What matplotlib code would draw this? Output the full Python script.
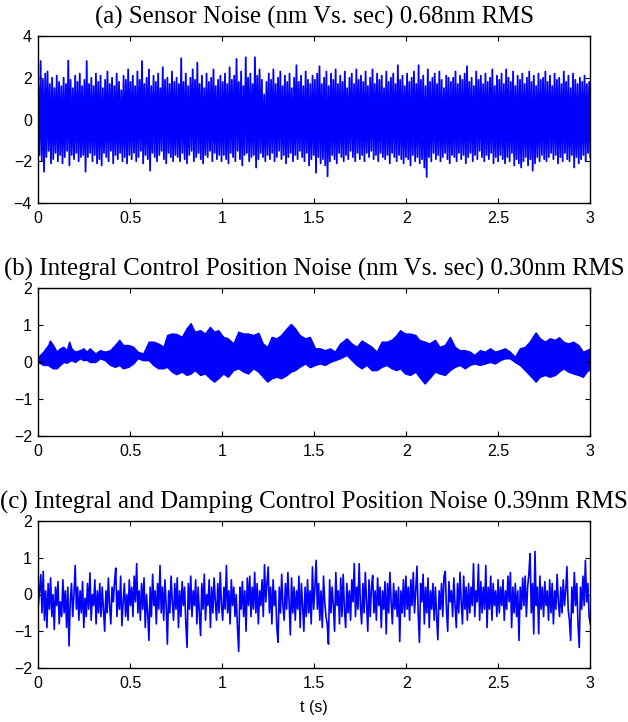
import numpy as np
import matplotlib
matplotlib.use("Agg")
import matplotlib.pyplot as plt

# ---------------- data ----------------
xticks = [0, 0.5, 1, 1.5, 2, 2.5, 3]
xticklabels = ["0", "0.5", "1", "1.5", "2", "2.5", "3"]

titles = ["(a) Sensor Noise (nm Vs. sec) 0.68nm RMS",
          "(b) Integral Control Position Noise (nm Vs. sec) 0.30nm RMS",
          "(c) Integral and Damping Control Position Noise 0.39nm RMS"]
xlabel_c = "t (s)"

# (a) successive positive and negative excursions of the sensor noise
a_peaks = [1.6, 2.8, 1.9, 2.2, 2.3, 1.7, 2.0, 1.5, 2.1, 1.8, 1.6, 2.0, 1.7, 2.82, 1.9, 1.5, 2.1, 1.8, 2.2, 1.6,
           1.9, 2.8, 1.7, 2.0, 1.6, 2.2, 1.8, 2.1, 1.5, 1.9, 2.3, 1.7, 2.0, 1.6, 2.2, 1.8, 1.4, 2.1, 1.9, 2.4,
           1.8, 2.1, 1.6, 2.3, 1.9, 2.8, 1.7, 2.0, 2.4, 1.6, 2.1, 1.8, 2.2, 1.5, 2.5, 1.9, 2.0, 1.7, 2.3, 1.8,
           2.0, 1.7, 2.93, 1.8, 2.2, 1.6, 2.0, 2.4, 1.9, 2.72, 1.7, 2.1, 1.5, 2.2, 1.8, 2.0, 2.4, 1.6, 1.9, 2.1,
           1.8, 2.2, 1.7, 2.5, 1.9, 2.1, 2.9, 1.8, 2.3, 1.6, 2.98, 2.0, 2.2, 1.7, 2.98, 2.1, 2.4, 1.9, 1.2, 1.8,
           2.2, 1.9, 2.4, 1.7, 2.0, 2.3, 1.6, 2.1, 1.8, 2.2, 1.5, 2.0, 2.6, 1.8, 2.1, 1.6, 2.3, 1.9, 1.7, 2.1,
           1.9, 2.2, 2.55, 1.7, 2.0, 2.3, 1.6, 2.2, 1.9, 2.4, 1.7, 2.1, 1.8, 2.3, 1.5, 2.0, 2.2, 1.7, 2.4, 1.9,
           2.1, 1.8, 2.3, 1.6, 2.0, 2.4, 1.7, 2.2, 1.9, 2.1, 1.5, 2.3, 1.8, 2.0, 2.2, 1.7, 2.6, 1.9, 2.1, 1.6,
           2.2, 1.8, 2.0, 2.3, 1.7, 2.6, 1.9, 2.1, 1.6, 2.4, 1.8, 2.0, 2.2, 1.7, 2.3, 1.9, 1.5, 2.1, 2.0, 1.8,
           2.0, 2.3, 1.7, 2.1, 1.9, 2.2, 2.55, 1.8, 2.0, 1.6, 2.3, 1.9, 2.1, 1.7, 2.2, 1.8, 2.0, 2.4, 1.6, 2.1,
           1.9, 2.2, 1.7, 2.4, 2.0, 1.8, 2.3, 1.6, 2.1, 1.9, 2.2, 1.7, 2.0, 2.3, 1.8, 2.1, 1.6, 2.2, 1.9, 2.0,
           2.3, 1.8, 2.1, 1.6, 2.2, 1.9, 2.0, 1.7, 2.3, 1.8, 2.1, 1.5, 2.2, 1.9, 1.7, 2.0, 1.8, 2.1, 1.7, 1.8]
a_troughs = [-1.7, -2.0, -2.5, -1.8, -1.5, -2.1, -1.9, -1.6, -2.0, -1.7, -2.1, -1.8, -1.5, -2.2, -1.7, -1.9, -1.6, -2.0, -1.8, -1.7,
             -2.5, -1.8, -1.6, -2.0, -1.7, -2.1, -1.9, -2.2, -1.6, -1.8, -2.0, -1.5, -2.1, -1.7, -1.9, -1.6, -2.0, -1.8, -2.1, -1.7,
             -1.9, -1.6, -2.0, -1.8, -1.5, -2.1, -1.7, -1.9, -2.45, -1.6, -1.8, -2.0, -1.7, -1.5, -1.9, -2.1, -1.6, -1.8, -2.0, -1.7,
             -1.8, -2.0, -1.6, -1.9, -2.1, -1.7, -1.5, -2.0, -1.8, -1.6, -1.9, -2.1, -1.7, -1.8, -1.5, -2.0, -1.6, -1.9, -1.7, -2.0,
             -1.7, -1.9, -2.1, -1.6, -1.8, -2.0, -1.5, -1.9, -2.2, -1.7, -1.6, -2.0, -1.8, -1.7, -2.3, -1.9, -1.6, -1.8, -2.0, -1.7,
             -1.9, -1.6, -2.0, -1.8, -1.5, -1.9, -1.7, -2.1, -1.8, -1.6, -2.0, -1.7, -1.9, -1.5, -1.8, -2.0, -1.6, -2.2, -1.9, -1.7,
             -2.55, -1.8, -2.1, -1.9, -2.2, -2.72, -2.0, -1.7, -1.9, -2.1, -1.6, -1.8, -2.0, -1.7, -1.9, -1.5, -1.8, -2.0, -1.6, -1.9,
             -1.7, -2.0, -1.6, -1.8, -1.5, -1.9, -1.7, -2.0, -1.6, -1.8, -1.9, -1.7, -2.1, -1.6, -1.8, -2.0, -1.7, -1.9, -2.1, -1.8,
             -1.9, -2.2, -1.7, -2.0, -1.8, -2.1, -1.9, -2.3, -2.75, -1.8, -2.0, -1.6, -1.9, -1.7, -2.0, -1.8, -1.6, -1.9, -2.1, -1.7,
             -1.8, -2.0, -1.6, -1.9, -1.7, -2.1, -1.8, -1.6, -2.0, -1.7, -1.9, -1.5, -1.8, -2.0, -1.7, -1.9, -1.6, -2.1, -1.8, -2.0,
             -1.7, -1.9, -2.1, -1.8, -2.0, -1.6, -2.2, -1.9, -2.1, -2.3, -2.0, -1.8, -2.2, -1.9, -2.45, -2.1, -1.8, -2.0, -1.7, -1.9,
             -2.0, -1.8, -1.6, -1.9, -1.7, -2.1, -1.8, -2.0, -1.6, -1.9, -2.0, -1.7, -2.3, -1.8, -2.1, -1.9, -1.7, -2.0, -1.6, -1.8]

# (b) envelope of the integral-control position noise band
t_b = [0, .027, .054, .063, .08, .1, .118, .136, .154, .168,
       .18, .2, .226, .245, .263, .28, .31, .335, .362, .39,
       .417, .44, .46, .49, .516, .54, .57, .6, .625, .652,
       .68, .7, .725, .75, .78, .806, .828, .85, .88, .906,
       .933, .955, .978, 1.005, 1.03, 1.06, 1.087, 1.114, 1.14, 1.168,
       1.196, 1.22, 1.245, 1.268, 1.295, 1.32, 1.35, 1.373, 1.395, 1.42,
       1.45, 1.476, 1.504, 1.53, 1.558, 1.585, 1.612, 1.64, 1.676, 1.703,
       1.73, 1.757, 1.784, 1.812, 1.839, 1.866, 1.893, 1.92, 1.947, 1.966,
       1.993, 2.02, 2.05, 2.07, 2.1, 2.125, 2.156, 2.18, 2.21, 2.237,
       2.264, 2.29, 2.318, 2.345, 2.37, 2.4, 2.427, 2.455, 2.482, 2.51,
       2.536, 2.563, 2.59, 2.617, 2.645, 2.67, 2.703, 2.726, 2.753, 2.78,
       2.808, 2.83, 2.853, 2.88, 2.907, 2.935, 2.96, 2.98, 3.0]
upper_b = [.14, .28, .46, .58, .46, .28, .37, .41, .32, .55,
           .37, .28, .32, .37, .28, .37, .23, .32, .28, .32,
           .46, .6, .46, .46, .41, .28, .23, .55, .55, .5,
           .41, .73, .77, .76, .68, .91, 1.05, .82, .86, .77,
           .95, .82, .86, .68, .64, .5, .82, .77, .77, .73,
           .79, .5, .41, .68, .64, .73, .91, 1.03, .91, .73,
           .64, .68, .37, .37, .32, .37, .28, .5, .64, .5,
           .41, .58, .5, .41, .28, .55, .55, .6, .73, .86,
           .77, .77, .73, .6, .55, .5, .6, .41, .46, .68,
           .41, .32, .32, .28, .19, .32, .28, .37, .28, .32,
           .37, .28, .14, .37, .41, .55, .8, .64, .55, .64,
           .6, .67, .55, .5, .55, .46, .28, .32, .37]
lower_b = [.0, -.08, -.08, -.12, -.17, -.17, -.08, .0, -.02, .02,
           .05, .0, .1, .05, .06, .0, .0, .1, .05, -.08,
           -.13, -.08, -.17, -.13, -.04, .1, .05, .05, -.08, -.17,
           -.17, -.13, -.26, -.33, -.26, -.35, -.31, -.22, -.35, -.31,
           -.44, -.53, -.44, -.31, -.4, -.22, -.17, -.26, -.31, -.17,
           -.26, -.4, -.53, -.44, -.4, -.44, -.35, -.26, -.22, -.13,
           -.04, -.14, -.08, -.04, -.08, .0, .05, .1, .19, .05,
           -.08, -.17, -.08, -.22, -.22, -.13, -.08, -.17, -.22, -.17,
           -.31, -.35, -.26, -.4, -.58, -.44, -.26, -.31, -.35, -.22,
           -.13, -.08, -.17, -.08, -.04, -.08, -.04, .0, -.04, .05,
           .1, .1, .0, -.08, -.22, -.35, -.53, -.4, -.35, -.4,
           -.35, -.26, -.17, -.26, -.31, -.35, -.4, -.26, -.17]

# (c) integral + damping control position noise (successive extremes)
c_vals = [-0.3, 0.1, 0.54, -0.5, 0.63, -0.7, 0.1, -0.9, 0.3, -0.4, 0.45, -0.6, 0.0, -0.95, 0.2, -0.3, 0.35, -0.8, -0.2, -0.6, 0.4, -0.5, 0.1, -0.9, 0.2,
          -1.4, -0.2, 0.3, -0.6, 0.0, 0.79, -0.4, 0.2, -0.7, 0.1, -0.5, 0.35, -0.9, -0.1, -0.6, 0.3, -0.4, 0.59, -0.7, 0.0, -0.3, 0.4, -0.8, 0.1, -0.5,
          0.3, -0.6, 0.2, -0.4, -1.0, 0.1, -0.5, 0.45, -0.3, -0.8, 0.2, -0.2, 0.35, 0.72, -0.6, 0.1, -0.4, 0.5, -0.85, -0.2, 0.3, -0.6, 0.0, -0.7, 0.4,
          -0.3, 0.2, -0.6, 0.5, -0.2, 0.84, -0.5, 0.1, -0.7, 0.3, -0.4, 0.45, -0.9, 0.0, -0.5, -1.25, 0.2, -0.6, 0.55, -0.3, 0.1, -0.8, 0.3, -0.4, 0.79,
          -0.5, 0.2, -0.7, 0.4, -0.3, -1.35, 0.1, -0.5, 0.5, -0.2, -0.7, 0.3, -0.4, 0.45, -0.9, 0.1, -0.6, 0.35, -0.3, 0.2, -0.8, -1.44, 0.3, -0.4, 0.5,
          -0.6, 0.1, -0.3, 0.4, -0.8, 0.2, -0.5, -1.12, 0.3, -0.4, 0.55, -0.7, 0.0, -0.3, 0.4, -0.9, 0.2, -0.5, 0.45, -0.2, -0.7, 0.3, -0.5, 0.6, -0.3,
          -0.7, 0.2, -0.4, 0.79, -0.5, 0.1, -0.8, 0.4, -0.3, 0.2, -0.6, 0.0, -0.9, -1.55, 0.2, -0.4, 0.35, -0.6, 0.1, -1.0, 0.45, -0.3, 0.5, -0.6, 0.2,
          -0.4, 0.6, -0.5, 0.3, -0.8, 0.1, -0.3, 0.4, -0.6, 0.81, -0.2, 0.3, 0.75, -0.5, 0.2, -0.8, 0.4, -0.3, 0.1, -0.9, -1.3, 0.2, -0.5, 0.55, -0.3,
          -0.7, 0.3, -0.4, 0.6, -0.2, -1.1, 0.45, -0.5, 0.2, -0.7, 0.1, -0.4, 0.5, -0.9, 0.3, -0.3, -1.0, 0.2, -0.6, 0.4, -0.5, 0.1, -0.8, 0.75, -0.4,
          0.2, 0.93, -0.4, 0.3, -0.7, 0.1, -0.9, 0.5, -0.2, -0.6, -0.8, -1.35, 0.4, -0.5, 0.2, -0.3, -1.0, 0.6, -0.3, 0.1, -0.8, 0.45, -0.6, 0.55, -0.4,
          -0.9, 0.3, -0.5, 0.1, -0.7, 0.4, -0.2, 0.84, -0.6, 0.2, -0.4, 0.84, -0.3, -0.8, 0.3, -0.5, 0.6, -0.2, -1.0, 0.4, -0.6, 0.2, 0.52, -0.5, 0.1,
          -0.7, 0.45, -0.3, 0.2, -0.9, 0.1, -0.4, 0.35, -1.07, 0.3, -0.5, 0.6, -0.2, -0.8, 0.3, -0.4, 0.1, -0.6, 0.2, -1.28, 0.1, -0.5, 0.4, -0.6, 0.5,
          -0.4, 0.2, -0.7, 0.4, -0.3, 0.6, -0.5, 0.1, 0.77, -0.5, -1.3, 0.3, -0.2, 0.55, -0.8, 0.2, -0.5, 0.45, -0.9, 0.1, -0.4, 0.3, -0.7, 0.2, -0.6,
          -1.23, 0.1, -0.4, 0.3, -0.6, 0.5, 0.63, -0.4, -1.0, 0.35, -0.2, 0.1, -0.6, 0.45, -0.3, -0.9, 0.3, -0.5, 0.6, -0.2, -0.8, 0.5, -0.4, 0.2, -0.7,
          0.3, -0.5, 0.2, -0.3, 0.84, -0.6, 0.1, -0.2, 0.82, -0.7, 0.35, -0.5, 0.2, -0.4, 0.79, -0.9, 0.2, -0.4, 0.5, -0.7, 0.3, -0.3, 0.1, -0.6, 0.4,
          -0.5, 0.2, -0.3, 0.4, -0.7, 0.1, -0.4, 0.5, -0.2, 0.6, -0.9, 0.2, -0.5, 0.3, -0.6, 0.1, -1.25, 0.2, -0.4, 0.45, -0.3, 0.5, -0.6, 0.2, 0.55,
          1.11, -0.5, 0.3, -1.07, 1.17, -0.3, 0.2, -1.07, 0.5, -0.4, 0.2, -0.6, 0.35, -0.3, 0.1, -0.7, 0.4, -0.5, 0.3, -0.8, 0.1, -0.4, 0.55, -0.2, -0.6,
          0.2, -0.5, 0.4, -0.3, 0.1, 0.76, -0.4, -0.7, -1.25, 0.2, -0.5, 0.6, -0.3, 0.3, -0.8, -1.44, 0.2, -0.4, 0.5, -0.3, 0.93, -0.2, 0.3, -0.6, -0.8]

# ---------------- drawing ----------------
BLUE = (0, 0, 1)
TITLE_FONT = dict(family="Liberation Serif", size=17.9)
TICK_FONT = "Liberation Sans"

fig = plt.figure(figsize=(6.28, 7.22), dpi=100)
W, H = 628.0, 722.0
left, width = 38.3 / W, 552.0 / W
ax_a = fig.add_axes([left, (H - 203) / H, width, 167 / H])
ax_b = fig.add_axes([left, (H - 436) / H, width, 148 / H])
ax_c = fig.add_axes([left, (H - 668) / H, width, 147 / H])

# (a)
a_sig = np.column_stack([a_peaks, a_troughs]).ravel()
t_a = np.linspace(0, 3, len(a_sig))
ax_a.plot(t_a, a_sig, color=BLUE, lw=1.3)
ax_a.set_ylim(-4, 4)
ax_a.set_yticks([-4, -2, 0, 2, 4])

# (b)
ax_b.fill_between(t_b, lower_b, upper_b, color=BLUE, lw=1.0, edgecolor=BLUE)
ax_b.set_ylim(-2, 2)
ax_b.set_yticks([-2, -1, 0, 1, 2])

# (c)
t_c = np.linspace(0, 3, len(c_vals))
ax_c.plot(t_c, c_vals, color=BLUE, lw=1.2)
ax_c.set_ylim(-2, 2)
ax_c.set_yticks([-2, -1, 0, 1, 2])
ax_c.set_xlabel(xlabel_c, fontfamily=TICK_FONT, fontsize=11.5, labelpad=6)

for ax, title in zip([ax_a, ax_b, ax_c], titles):
    ax.set_xlim(0, 3)
    ax.set_xticks(xticks)
    ax.set_xticklabels(xticklabels)
    ax.set_title(title, fontdict=TITLE_FONT, pad=9)
    ax.tick_params(direction="in", top=True, right=True, length=3.5, width=0.8)
    ax.tick_params(axis="x", pad=6)
    ax.tick_params(axis="y", pad=4.5)
    for lab in ax.get_xticklabels() + ax.get_yticklabels():
        lab.set_fontfamily(TICK_FONT)
        lab.set_fontsize(11.5)
    for sp in ax.spines.values():
        sp.set_linewidth(1.0)

fig.savefig("out.png", dpi=100)
